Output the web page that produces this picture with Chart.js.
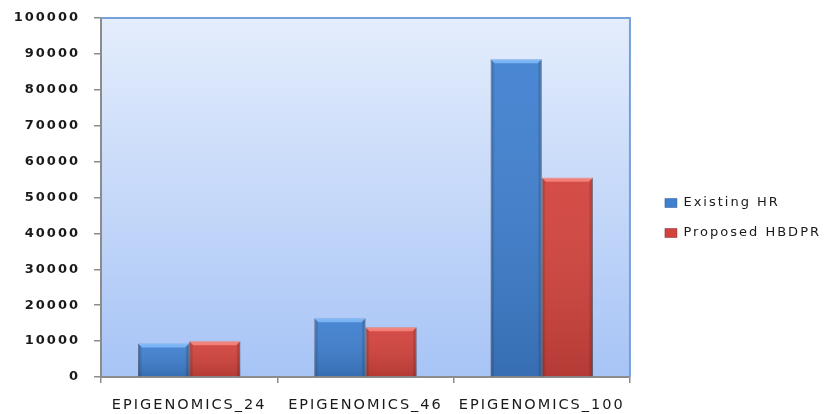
<!DOCTYPE html>
<html>
<head>
<meta charset="utf-8">
<script src="https://cdn.jsdelivr.net/npm/chart.js@4/dist/chart.umd.min.js"></script>
<style>
  html, body { margin: 0; padding: 0; background: #ffffff; }
  #wrap { width: 840px; height: 414px; }
</style>
</head>
<body>
<div id="wrap"><canvas id="chart" width="840" height="414"></canvas></div>
<script>
// Workflow categories and the two scheduler series
const categories = ['EPIGENOMICS_24', 'EPIGENOMICS_46', 'EPIGENOMICS_100'];
const existingHR = [9300, 16350, 88500];
const proposedHBDPR = [9950, 13850, 55500];
const seriesNames = ['Existing HR', 'Proposed HBDPR'];
const yMin = 0;
const yMax = 100000;
const yStep = 10000;

const FONT = "'DejaVu Sans', sans-serif";
const LEGEND_GAP = 27;    // extra room between plot and legend
const LEGEND_SHIFT_X = 18;
const LEGEND_SHIFT_Y = 2;
const BAR_HIGHLIGHT = ['rgba(140,195,255,0.75)', 'rgba(255,150,140,0.7)'];

// Wide lettering for all canvas text
const spacingPlugin = {
  id: 'spacing',
  beforeUpdate(chart) { chart.ctx.letterSpacing = '2px'; },
  beforeDraw(chart) { chart.ctx.letterSpacing = '2px'; },
  resize(chart) { chart.ctx.letterSpacing = '2px'; }
};

// Leave a gap between the plot frame and the legend column
const legendOffset = {
  id: 'legendOffset',
  afterInit(chart) {
    const legend = chart.legend;
    if (legend && !legend._gapPatched) {
      const fit = legend.fit.bind(legend);
      legend.fit = function () {
        fit();
        this.width += LEGEND_GAP;
      };
      legend._gapPatched = true;
    }
  },
  afterLayout(chart) {
    const legend = chart.legend;
    if (legend) {
      legend.left += LEGEND_SHIFT_X;
      legend.top += LEGEND_SHIFT_Y;
      legend.bottom += LEGEND_SHIFT_Y;
    }
  }
};

// Pale blue gradient behind the plot area
const plotBackground = {
  id: 'plotBackground',
  beforeDraw(chart) {
    const { ctx, chartArea: a } = chart;
    ctx.save();
    const g = ctx.createLinearGradient(0, a.top, 0, a.bottom);
    g.addColorStop(0, '#e4edfc');
    g.addColorStop(1, '#a7c4f6');
    ctx.fillStyle = g;
    ctx.fillRect(a.left, a.top, a.right - a.left, a.bottom - a.top);
    ctx.restore();
  },
  afterDraw(chart) {
    // blue frame on the top and right edges of the plot area
    const { ctx, chartArea: a } = chart;
    ctx.save();
    ctx.strokeStyle = '#78a0d8';
    ctx.lineWidth = 2;
    ctx.beginPath();
    ctx.moveTo(a.left, a.top);
    ctx.lineTo(a.right, a.top);
    ctx.lineTo(a.right, a.bottom);
    ctx.stroke();
    ctx.restore();
  }
};

// Bevelled shading laid over each bar the library has drawn
const bevel = {
  id: 'bevel',
  afterDatasetsDraw(chart) {
    const ctx = chart.ctx;
    chart.data.datasets.forEach((ds, i) => {
      const meta = chart.getDatasetMeta(i);
      meta.data.forEach(bar => {
        const { x, y, base, width } = bar.getProps(['x', 'y', 'base', 'width'], true);
        const l = x - width / 2, r = x + width / 2, t = y, b = base;
        const e = 4;
        ctx.save();
        // vertical darkening toward the base
        let g = ctx.createLinearGradient(0, t, 0, b);
        g.addColorStop(0, 'rgba(255,255,255,0.05)');
        g.addColorStop(1, 'rgba(0,0,0,0.14)');
        ctx.fillStyle = g;
        ctx.fillRect(l, t, r - l, b - t);
        // top highlight
        ctx.fillStyle = BAR_HIGHLIGHT[i];
        ctx.beginPath();
        ctx.moveTo(l, t); ctx.lineTo(r, t); ctx.lineTo(r - e, t + e); ctx.lineTo(l + e, t + e);
        ctx.closePath(); ctx.fill();
        // left edge
        g = ctx.createLinearGradient(l, 0, l + e, 0);
        g.addColorStop(0, 'rgba(0,0,0,0.24)');
        g.addColorStop(1, 'rgba(0,0,0,0.03)');
        ctx.fillStyle = g;
        ctx.beginPath();
        ctx.moveTo(l, t); ctx.lineTo(l + e, t + e); ctx.lineTo(l + e, b); ctx.lineTo(l, b);
        ctx.closePath(); ctx.fill();
        // right edge
        g = ctx.createLinearGradient(r - e, 0, r, 0);
        g.addColorStop(0, 'rgba(0,0,0,0.03)');
        g.addColorStop(1, 'rgba(0,0,0,0.28)');
        ctx.fillStyle = g;
        ctx.beginPath();
        ctx.moveTo(r, t); ctx.lineTo(r - e, t + e); ctx.lineTo(r - e, b); ctx.lineTo(r, b);
        ctx.closePath(); ctx.fill();
        ctx.restore();
      });
    });
  }
};

new Chart(document.getElementById('chart'), {
  type: 'bar',
  data: {
    labels: categories,
    datasets: [
      {
        label: seriesNames[0],
        data: existingHR,
        backgroundColor: '#4080d0',
        borderColor: 'rgba(40,70,120,0.45)',
        borderWidth: 1
      },
      {
        label: seriesNames[1],
        data: proposedHBDPR,
        backgroundColor: '#d2433d',
        borderColor: 'rgba(110,30,30,0.45)',
        borderWidth: 1
      }
    ]
  },
  options: {
    responsive: false,
    animation: false,
    devicePixelRatio: 1,
    categoryPercentage: 0.58,
    barPercentage: 1,
    layout: { padding: { top: 18, right: 0, left: 0, bottom: 0 } },
    plugins: {
      tooltip: { enabled: false },
      legend: {
        position: 'right',
        align: 'center',
        labels: {
          boxWidth: 12,
          boxHeight: 9,
          padding: 17,
          color: '#1a1a1a',
          font: { family: FONT, size: 13 }
        }
      }
    },
    scales: {
      x: {
        grid: {
          offset: true,
          drawOnChartArea: false,
          drawTicks: true,
          tickLength: 6,
          color: '#8c8c8c',
          lineWidth: 1.5
        },
        border: { display: true, color: '#8c8c8c', width: 2 },
        ticks: {
          color: '#1a1a1a',
          padding: 14,
          maxRotation: 0,
          autoSkip: false,
          font: { family: FONT, size: 14.5 }
        },
        afterFit(scale) { scale.height = 37; }
      },
      y: {
        min: yMin,
        max: yMax,
        grid: {
          drawOnChartArea: false,
          drawTicks: true,
          tickLength: 7,
          color: '#8c8c8c',
          lineWidth: 1.5
        },
        border: { display: true, color: '#8c8c8c', width: 2 },
        ticks: {
          stepSize: yStep,
          color: '#1a1a1a',
          padding: 14,
          font: { family: FONT, size: 13, weight: 'bold' },
          callback: (v) => String(v)
        },
        afterFit(scale) {
          scale.width = 101;
          scale.paddingTop = 0;
          scale.paddingBottom = 0;
        }
      }
    }
  },
  plugins: [spacingPlugin, legendOffset, plotBackground, bevel]
});
</script>
</body>
</html>
